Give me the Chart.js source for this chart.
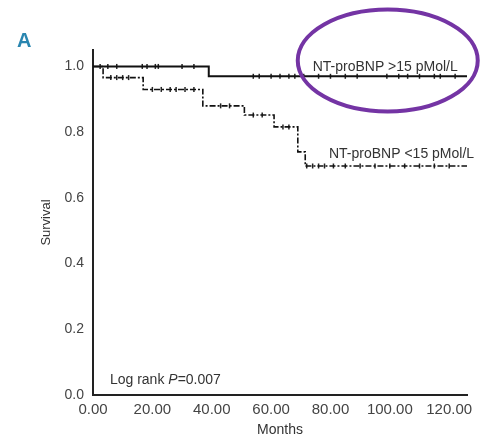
<!DOCTYPE html>
<html>
<head>
<meta charset="utf-8">
<script src="https://cdn.jsdelivr.net/npm/chart.js@4"></script>
<style>
  body { margin: 0; background: #fff; }
  #wrap { width: 483px; height: 439px; position: relative; }
</style>
</head>
<body>
<div id="wrap"><canvas id="chart" width="483" height="439"></canvas></div>
<script>
// step points (months, survival after the event)
const highTimes = [0, 39, 126];
const highSurv = [1.0, 0.97, 0.97];
const lowTimes = [0, 3.4, 16.9, 37, 51, 61, 69, 71.5, 126];
const lowSurv = [1.0, 0.966, 0.93, 0.88, 0.852, 0.816, 0.74, 0.697, 0.697];

// censored observations (months)
const highCensor = [2.4, 5, 8, 16.6, 18.2, 21, 22, 30, 34, 54, 56, 60, 63, 66, 68, 71, 76, 80, 85, 89, 99, 103, 106, 110, 115, 117, 122];
const lowCensor = [6, 8, 10, 12, 20, 23, 26, 28, 31, 34, 43, 46, 54, 57, 64, 66, 72, 74, 76, 78, 81, 85, 90, 95, 100, 105, 110, 115, 120];

const xTicks = [0, 20, 40, 60, 80, 100, 120];
const yTicks = [0, 0.2, 0.4, 0.6, 0.8, 1.0];

const font = "'Liberation Sans', Arial, sans-serif";

function survAt(times, surv, t) {
  let s = surv[0];
  for (let i = 0; i < times.length; i++) {
    if (times[i] <= t) s = surv[i];
  }
  return s;
}

const pts = (xs, ys) => xs.map((x, i) => ({ x: x, y: ys[i] }));
const marks = (cs, times, surv) => cs.map(t => ({ x: t, y: survAt(times, surv, t) }));

const extras = {
  id: 'extras',
  afterDraw(chart) {
    const c = chart.ctx;
    const xs = chart.scales.x, ys = chart.scales.y;
    c.save();
    // panel letter
    c.fillStyle = '#2a86b0';
    c.font = "bold 20px " + font;
    c.textBaseline = 'middle';
    c.fillText('A', 17, 41);
    // curve labels
    c.fillStyle = '#333';
    c.font = "14px " + font;
    c.textBaseline = 'alphabetic';
    c.fillText('NT-proBNP >15 pMol/L', xs.getPixelForValue(74), ys.getPixelForValue(1.0) + 5);
    c.fillText('NT-proBNP <15 pMol/L', xs.getPixelForValue(79.5), ys.getPixelForValue(0.72));
    // log rank
    const lx = xs.getPixelForValue(5.7), ly = ys.getPixelForValue(0.035);
    c.fillText('Log rank ', lx, ly);
    let w = c.measureText('Log rank ').width;
    c.font = "italic 14px " + font;
    c.fillText('P', lx + w, ly);
    w += c.measureText('P').width;
    c.font = "14px " + font;
    c.fillText('=0.007', lx + w, ly);
    // highlight ellipse
    c.strokeStyle = '#7434a4';
    c.lineWidth = 4;
    c.beginPath();
    c.ellipse(xs.getPixelForValue(99.3), ys.getPixelForValue(1.018), 90, 51, 0, 0, Math.PI * 2);
    c.stroke();
    c.restore();
  }
};

new Chart(document.getElementById('chart'), {
  type: 'line',
  data: {
    datasets: [
      {
        data: pts(highTimes, highSurv),
        stepped: true,
        borderColor: '#111',
        borderWidth: 2,
        pointRadius: 0
      },
      {
        data: pts(lowTimes, lowSurv),
        stepped: true,
        borderColor: '#111',
        borderWidth: 1.6,
        borderDash: [6, 2, 2, 2],
        pointRadius: 0
      },
      {
        data: marks(highCensor, highTimes, highSurv),
        showLine: false,
        pointStyle: 'line',
        rotation: 90,
        pointRadius: 2.5,
        pointBorderWidth: 1.5,
        borderColor: '#222'
      },
      {
        data: marks(lowCensor, lowTimes, lowSurv),
        showLine: false,
        pointStyle: 'line',
        rotation: 90,
        pointRadius: 2.5,
        pointBorderWidth: 1.5,
        borderColor: '#222'
      }
    ]
  },
  options: {
    responsive: false,
    animation: false,
    layout: { padding: { top: 50, right: 16, left: 0, bottom: 0 } },
    plugins: { legend: { display: false }, tooltip: { enabled: false } },
    scales: {
      x: {
        type: 'linear',
        min: 0,
        max: 126,
        afterBuildTicks: s => { s.ticks = xTicks.map(v => ({ value: v })); },
        afterFit: s => { s.height = 44; },
        grid: { display: false, drawTicks: true, tickLength: 6, tickColor: '#222' },
        border: { color: '#222', width: 2 },
        ticks: {
          color: '#444',
          font: { family: font, size: 15 },
          padding: 0,
          maxRotation: 0,
          callback: v => v.toFixed(2)
        },
        title: { display: true, text: 'Months', color: '#333', font: { family: font, size: 14 }, padding: 0 }
      },
      y: {
        min: 0,
        max: 1.05,
        afterBuildTicks: s => { s.ticks = yTicks.map(v => ({ value: v })); },
        afterFit: s => { s.width = 93; },
        grid: { display: false, drawTicks: true, tickLength: 7, tickColor: '#222' },
        border: { color: '#222', width: 2 },
        ticks: {
          color: '#444',
          font: { family: font, size: 14 },
          padding: 2,
          callback: v => v.toFixed(1)
        },
        title: { display: true, text: 'Survival', color: '#333', font: { family: font, size: 13 }, padding: { top: 39, bottom: 0 } }
      }
    }
  },
  plugins: [extras]
});
</script>
</body>
</html>
